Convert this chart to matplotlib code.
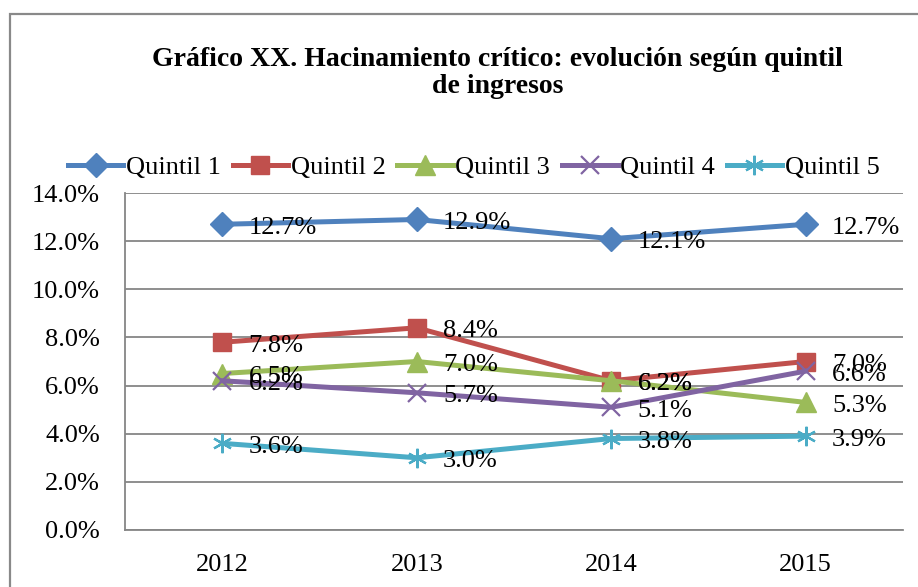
#!/usr/bin/env python3

import matplotlib
matplotlib.use('Agg')
import matplotlib.pyplot as plt
from matplotlib.patches import Rectangle

years = ['2012', '2013', '2014', '2015']
series_names = ['Quintil 1', 'Quintil 2', 'Quintil 3', 'Quintil 4', 'Quintil 5']
quintil_1 = [12.7, 12.9, 12.1, 12.7]
quintil_2 = [7.8, 8.4, 6.2, 7.0]
quintil_3 = [6.5, 7.0, 6.2, 5.3]
quintil_4 = [6.2, 5.7, 5.1, 6.6]
quintil_5 = [3.6, 3.0, 3.8, 3.9]
yticks = [0, 2, 4, 6, 8, 10, 12, 14]

colors = ['#4F81BD', '#C0504D', '#9BBB59', '#8064A2', '#4BACC6']
markers = ['D', 's', '^', 'x', (6, 2, 0)]
msizes = [12, 13, 14, 13, 14]

plt.rcParams['font.family'] = ['Liberation Serif', 'DejaVu Serif']


def main():
    fig = plt.figure(figsize=(9.18, 5.87), dpi=100)
    ax = fig.add_axes([125 / 918, 1 - 530 / 587, 778 / 918, 337 / 587])

    # outer chart frame (runs off the right and bottom edges)
    fig.patches.append(Rectangle((10 / 918, -0.05), 1.0, 1 - 14 / 587 + 0.05,
                                 transform=fig.transFigure, fill=False,
                                 edgecolor='#898989', linewidth=1.6,
                                 clip_on=False))

    x = [i + 0.5 for i in range(len(years))]
    data = [quintil_1, quintil_2, quintil_3, quintil_4, quintil_5]
    handles = []
    for name, vals, c, m, ms in zip(series_names, data, colors, markers, msizes):
        h, = ax.plot(x, vals, color=c, linewidth=3.6, marker=m, markersize=ms,
                     markerfacecolor=c, markeredgecolor=c,
                     markeredgewidth=1.6 if m in ('x', markers[4]) else 1,
                     label=name, zorder=3)
        handles.append(h)
        # data labels to the right of each point, as in the original
        for xi, v in zip(x, vals):
            ax.annotate('{:.1f}%'.format(v), (xi, v), xytext=(19, -2.5),
                        textcoords='offset points', va='center', ha='left',
                        fontsize=19, color='black', zorder=4)

    ax.set_xlim(0, 4)
    ax.set_ylim(0, 14)
    ax.set_xticks(x)
    ax.set_xticklabels(years)
    ax.set_yticks(yticks)
    ax.set_yticklabels(['{:.1f}%'.format(t) for t in yticks])
    ax.tick_params(axis='both', length=0, labelsize=19)
    ax.tick_params(axis='y', pad=18)
    ax.tick_params(axis='x', pad=17)
    ax.grid(axis='y', color='#868686', linewidth=1.3)
    ax.set_axisbelow(True)
    for side in ('top', 'right'):
        ax.spines[side].set_visible(False)
    for side in ('left', 'bottom'):
        ax.spines[side].set_color('#868686')
        ax.spines[side].set_linewidth(1.3)

    fig.text(0.542, 1 - 73 / 587,
             'Gráfico XX. Hacinamiento crítico: evolución según quintil\nde ingresos',
             ha='center', va='center', fontsize=20, fontweight='bold',
             linespacing=1.12)

    fig.legend(handles=handles, loc='center', ncol=5,
               bbox_to_anchor=(0.516, 1 - 167 / 587), frameon=False,
               fontsize=19, handlelength=2.1, handletextpad=0.1,
               columnspacing=0.45, borderaxespad=0)

    fig.savefig('out.png', dpi=100)


if __name__ == '__main__':
    main()
